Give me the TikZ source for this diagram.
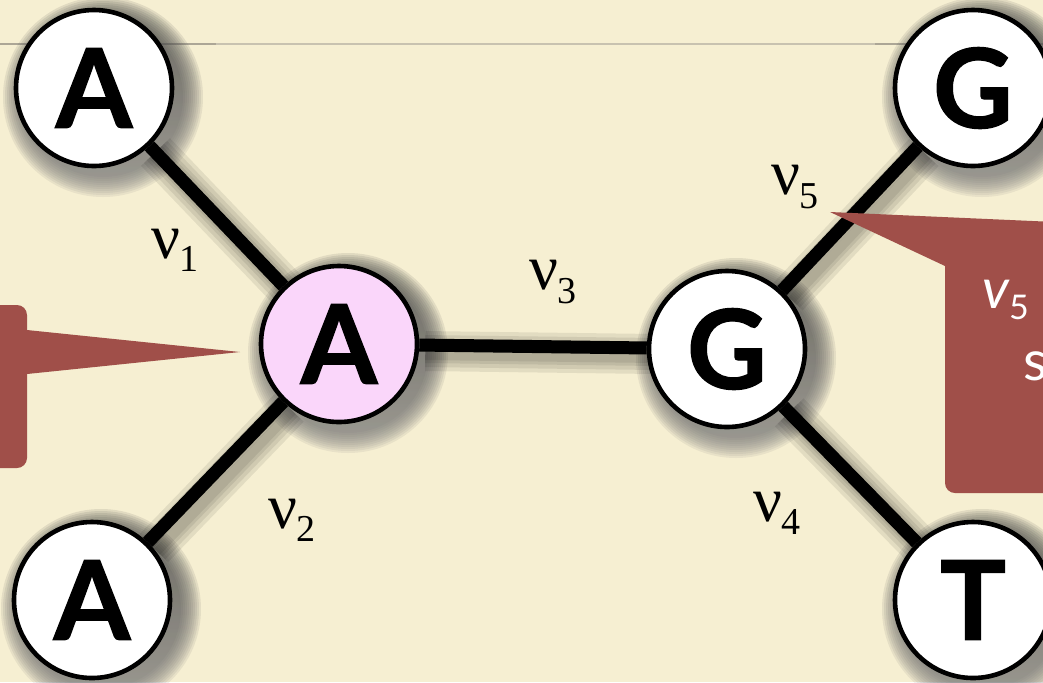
\documentclass[tikz,border=0pt]{standalone}
\usepackage{fontspec}
\setmainfont{Liberation Serif}
\newfontfamily\letterfont{Lato}[BoldFeatures={FakeBold=1.2}]
\newfontfamily\notefont{Lato}
\definecolor{paper}{RGB}{246,239,210}
\definecolor{rule}{RGB}{200,194,176}
\definecolor{ruledark}{RGB}{172,166,150}
\definecolor{rootpink}{RGB}{250,214,250}
\definecolor{note}{RGB}{160,79,73}
\definecolor{shade}{RGB}{60,50,20}
\pgfdeclarelayer{paper}
\pgfdeclarelayer{edges}
\pgfsetlayers{paper,edges,main}
\newcommand\rate[1]{ν\raisebox{-0.45ex}{\fontsize{19}{19}\selectfont #1}}

\tikzset{
  base/.style={circle, draw=black, line width=2.3pt, fill=white, minimum size=78pt,
    inner sep=0pt, font=\letterfont\bfseries\fontsize{55}{55}\selectfont},
  root/.style={base, fill=rootpink},
  branch/.style={line width=6.5pt, black},
  branchshade/.style={line width=#1, shade, opacity=0.08,
    transform canvas={shift={(3pt,-3pt)}}},
  nodeshade/.style={shade, opacity=0.06},
  ratelabel/.style={font=\fontsize{32}{32}\selectfont, inner sep=0pt},
  notebox/.style={fill=note, rounded corners=5pt},
  notetext/.style={text=white, font=\notefont\fontsize{28}{28}\selectfont,
    anchor=base west, inner sep=0pt}
}

\begin{document}
\begin{tikzpicture}[x=0.5pt, y=-0.5pt]
\useasboundingbox (0,0) rectangle (1043,682);

% paper and top rule
\begin{pgfonlayer}{paper}
\fill[paper] (0,0) rectangle (1043,682);
\draw[ruledark, line width=1pt] (0,44) -- (216,44) (875,44) -- (1043,44);
\draw[rule, line width=1pt] (216,44) -- (875,44);
\end{pgfonlayer}

% tree
\node[base] (leafa1) at (94,88) {A};
\node[base] (leafa2) at (92,600) {A};
\node[root] (anc1) at (339,344) {A};
\node[base] (anc2) at (727,349) {G};
\node[base] (leafg) at (973,88) {G};
\node[base] (leaft) at (973,600) {T};

\begin{pgfonlayer}{edges}
\foreach \n in {leafa1,leafa2,anc1,anc2,leafg,leaft}
  \foreach \r in {40,41,42,43,44,45,46,47,48,49,50}
    \fill[nodeshade] ([shift={(9,9)}]\n.center) circle[radius=\r pt];
\foreach \u/\v in {leafa1/anc1, leafa2/anc1, anc1/anc2, anc2/leafg, anc2/leaft}{
  \foreach \w in {20pt,16pt,12pt,9pt}
    \draw[branchshade=\w] (\u) -- (\v);
  \draw[branch] (\u) -- (\v);
}
\end{pgfonlayer}

% branch lengths
\node[ratelabel] (nu1) at (175,250) {\rate{1}};
\node[ratelabel] (nu2) at (292,520) {\rate{2}};
\node[ratelabel] (nu3) at (553,282) {\rate{3}};
\node[ratelabel] (nu4) at (777,513) {\rate{4}};
\node[ratelabel] (nu5) at (795,187) {\rate{5}};

% callouts
\fill[notebox] (-40,305) rectangle (27,468);
\fill[note] (27,330) -- (240,352) -- (27,374) -- cycle;
\fill[notebox] (945,222) rectangle (1100,493);
\fill[note] (830,212) -- (1100,224) -- (945,266) -- cycle;
\node[notetext] (vfive) at (982,308) {{\itshape v}\raisebox{-0.4ex}{\fontsize{17}{17}\selectfont 5} i};
\node[notetext] (sword) at (1023,380) {s};
\end{tikzpicture}
\end{document}
